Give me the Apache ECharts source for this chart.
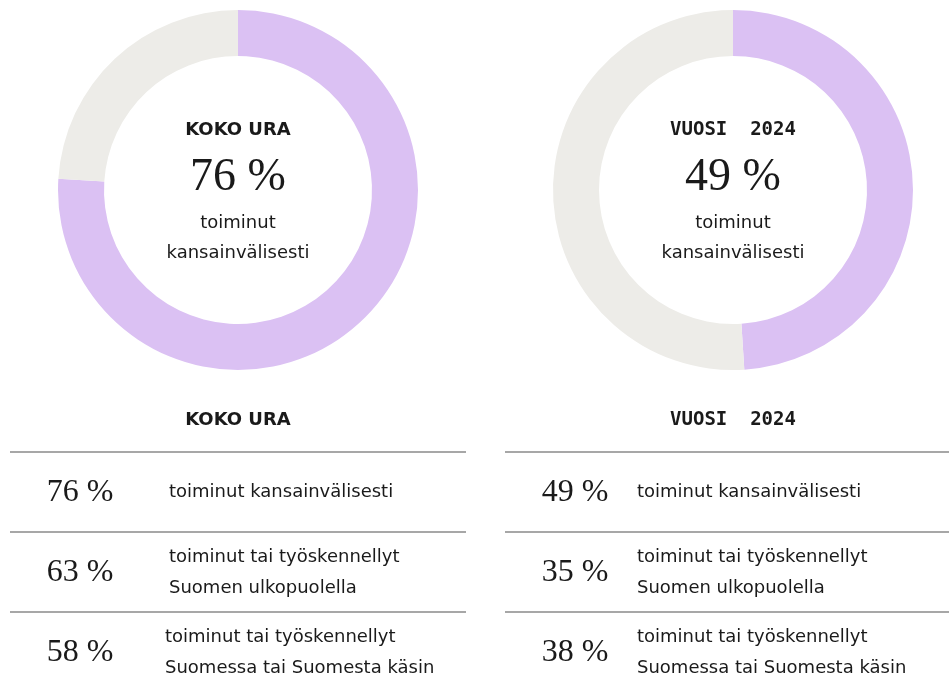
<!DOCTYPE html>
<html>
<head>
<meta charset="utf-8">
<script src="https://cdn.jsdelivr.net/npm/echarts@6/dist/echarts.min.js"></script>
<style>
  html, body { margin: 0; padding: 0; background: #fff; }
  #main { width: 949px; height: 686px; }
</style>
</head>
<body>
<div id="main"></div>
<script>
  // donut values (share who worked internationally)
  var donutTitles = ['KOKO URA', 'VUOSI  2024'];
  var donutValues = [76, 49];
  var donutLabel = ['toiminut', 'kansainvälisesti'];

  // table rows
  var rowLabels = [
    ['toiminut kansainvälisesti'],
    ['toiminut tai työskennellyt', 'Suomen ulkopuolella'],
    ['toiminut tai työskennellyt', 'Suomessa tai Suomesta käsin']
  ];
  var kokoUra = [76, 63, 58];
  var vuosi2024 = [49, 35, 38];

  var purple = '#dbc1f3';
  var grey = '#edece8';
  var serif = '"Liberation Serif", "DejaVu Serif", serif';
  var sans = '"DejaVu Sans", "Noto Sans", sans-serif';
  var mono = '"DejaVu Sans Mono", monospace';

  var chart = echarts.init(document.getElementById('main'));

  var centersX = [238, 733];
  var series = donutValues.map(function (v, i) {
    return {
      type: 'pie',
      center: [centersX[i], 190],
      radius: [134, 180],
      startAngle: 90,
      clockwise: true,
      silent: true,
      label: { show: false },
      labelLine: { show: false },
      data: [
        { value: v, name: 'kyllä', itemStyle: { color: purple } },
        { value: 100 - v, name: 'ei', itemStyle: { color: grey } }
      ]
    };
  });

  var graphics = [];
  function txt(x, y, text, font, size, weight, align) {
    graphics.push({
      type: 'text',
      x: x, y: y,
      style: {
        text: text,
        fontFamily: font,
        fontSize: size,
        fontWeight: weight || 'normal',
        fill: '#1a1a1a',
        align: align || 'center',
        verticalAlign: 'middle'
      }
    });
  }

  // centre texts
  donutValues.forEach(function (v, i) {
    var cx = centersX[i];
    txt(cx, 130, donutTitles[i], i === 0 ? sans : mono, i === 0 ? 18 : 19, 'bold');
    txt(cx, 178, v + ' %', serif, 46);
    txt(cx, 223, donutLabel[0], sans, 18);
    txt(cx, 253, donutLabel[1], sans, 18);
  });

  // tables
  var tables = [
    { title: 'KOKO URA', font: sans, size: 18, vals: kokoUra, x0: 10, x1: 466, numX: 80, labX: [169, 169, 165] },
    { title: 'VUOSI  2024', font: mono, size: 19, vals: vuosi2024, x0: 505, x1: 949, numX: 575, labX: [637, 637, 637] }
  ];
  var lineY = [452, 532, 612];
  var rowY = [493, 573, 653];

  tables.forEach(function (t, ti) {
    txt(centersX[ti], 420, t.title, t.font, t.size, 'bold');
    lineY.forEach(function (y) {
      graphics.push({
        type: 'line',
        shape: { x1: t.x0, y1: y, x2: t.x1, y2: y },
        style: { stroke: '#8a8a8a', lineWidth: 1.5 }
      });
    });
    t.vals.forEach(function (v, r) {
      txt(t.numX, rowY[r], v + ' %', serif, 32);
      var lines = rowLabels[r];
      if (lines.length === 1) {
        txt(t.labX[r], rowY[r] - 1, lines[0], sans, 18, 'normal', 'left');
      } else {
        txt(t.labX[r], rowY[r] - 16, lines[0], sans, 18, 'normal', 'left');
        txt(t.labX[r], rowY[r] + 15, lines[1], sans, 18, 'normal', 'left');
      }
    });
  });

  chart.setOption({
    animation: false,
    series: series,
    graphic: graphics
  });
</script>
</body>
</html>
